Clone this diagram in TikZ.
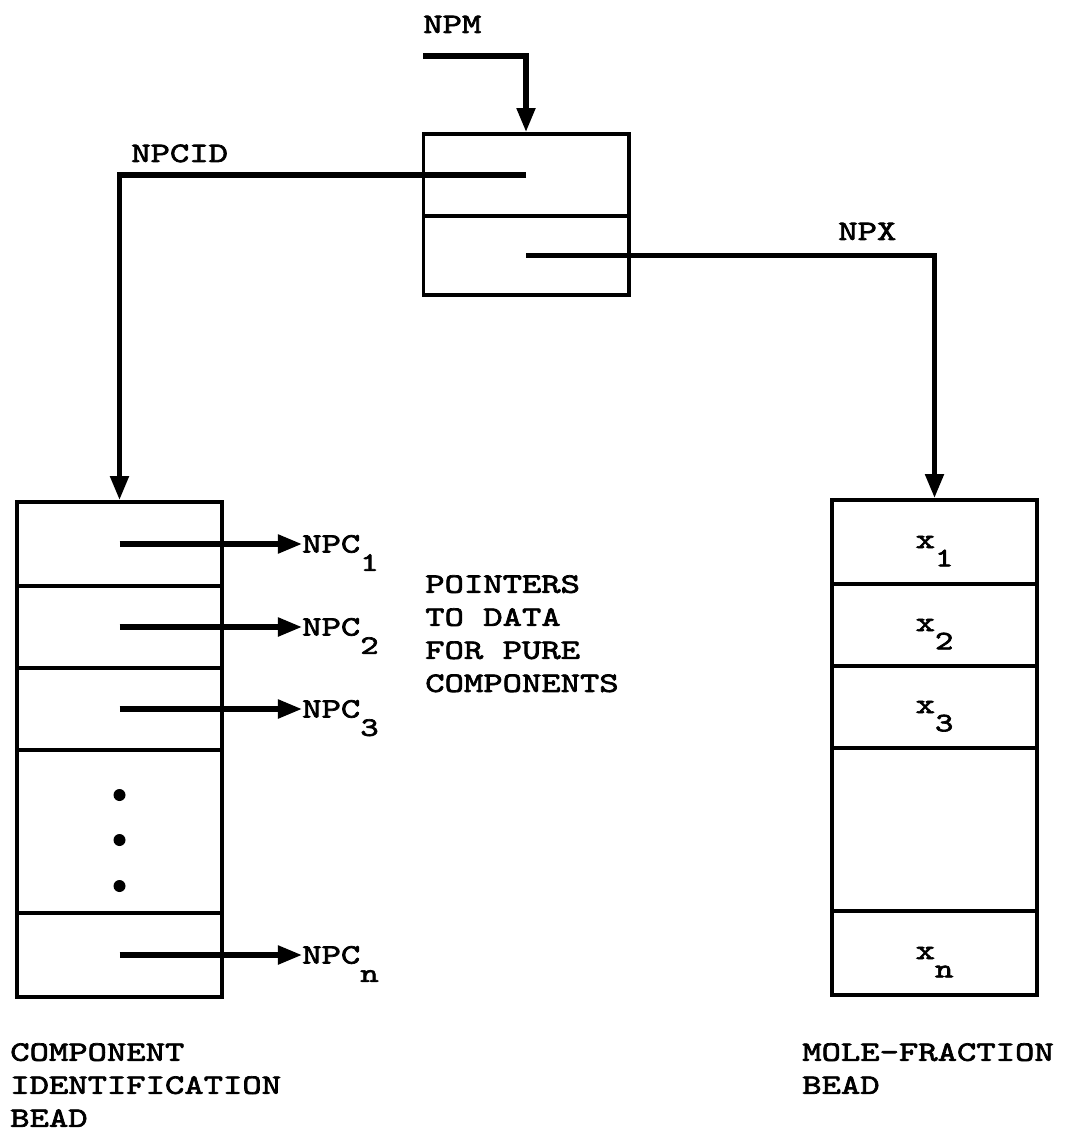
\documentclass[tikz,border=0pt]{standalone}
\usepackage{fontspec}
\setmainfont{lmmono10-regular.otf}[FakeStretch=1.31, FakeBold=2.5]
\usetikzlibrary{arrows.meta,positioning}
\newcommand{\lowsub}[1]{\raisebox{-13pt}[0pt][0pt]{\fontsize{19}{19}\selectfont #1}}

\begin{document}
\begin{tikzpicture}[x=0.025cm, y=-0.025cm,
    cell/.style={draw, line width=2.8pt, minimum width=5.125cm, inner sep=0pt},
    ptr/.style={line width=3.6pt, -{Triangle[length=0.6cm, width=0.45cm]}},
    lbl/.style={inner sep=0pt, font=\fontsize{20}{23.5}\selectfont},
    dotmk/.style={circle, fill, inner sep=0pt, minimum size=0.3cm}]
    \useasboundingbox (0,0) rectangle (1065,1135);

    % Mixture header bead
    \node[cell, minimum height=2.05cm] (head1) at (526,175) {};
    \node[cell, minimum height=1.975cm] (head2) at (526,255.5) {};

    % Component identification bead
    \node[cell, minimum height=2.1cm] (comp1) at (119.5,544) {};
    \node[cell, minimum height=2.05cm] (comp2) at (119.5,627) {};
    \node[cell, minimum height=2.05cm] (comp3) at (119.5,709) {};
    \node[cell, minimum height=4.075cm] (compdots) at (119.5,831.5) {};
    \node[cell, minimum height=2.1cm] (compn) at (119.5,955) {};
    \node[dotmk] (dot1) at (119.5,795) {};
    \node[dotmk] (dot2) at (119.5,840) {};
    \node[dotmk] (dot3) at (119.5,886) {};

    % Mole-fraction bead
    \node[cell, minimum height=2.1cm] (frac1) at (934.5,542) {};
    \node[cell, minimum height=2.05cm] (frac2) at (934.5,625) {};
    \node[cell, minimum height=2.05cm] (frac3) at (934.5,707) {};
    \node[cell, minimum height=4.075cm] (fracdots) at (934.5,829.5) {};
    \node[cell, minimum height=2.1cm] (fracn) at (934.5,953) {};
    \node[lbl] (x1) at (frac1.center) {x\lowsub{1}};
    \node[lbl] (x2) at (frac2.center) {x\lowsub{2}};
    \node[lbl] (x3) at (frac3.center) {x\lowsub{3}};
    \node[lbl] (xn) at (fracn.center) {x\lowsub{n}};

    % Labels
    \node[lbl, anchor=base west] (npm) at (423,33) {NPM};
    \node[lbl, anchor=base west] (npcid) at (131,162) {NPCID};
    \node[lbl, anchor=base west] (npx) at (838,240) {NPX};
    \node[lbl, anchor=west] (npc1) at (302,544) {NPC\lowsub{1}};
    \node[lbl, anchor=west] (npc2) at (302,627) {NPC\lowsub{2}};
    \node[lbl, anchor=west] (npc3) at (302,709) {NPC\lowsub{3}};
    \node[lbl, anchor=west] (npcn) at (302,955) {NPC\lowsub{n}};
    \node[lbl, anchor=north west, align=left] (note) at (425,575) {POINTERS\\TO DATA\\FOR PURE\\COMPONENTS};
    \node[lbl, anchor=north west, align=left] (compname) at (10,1043) {COMPONENT\\IDENTIFICATION\\BEAD};
    \node[lbl, anchor=north west, align=left] (fracname) at (802,1043) {MOLE-FRACTION\\BEAD};

    % Pointers
    \coordinate (npmin) at (423,56);
    \draw[ptr] (npmin) -| (head1.north);
    \draw[ptr] (head1.center) -| (comp1.north);
    \draw[ptr] (head2.center) -| (frac1.north);
    \draw[ptr] (comp1.center) -- (npc1.west);
    \draw[ptr] (comp2.center) -- (npc2.west);
    \draw[ptr] (comp3.center) -- (npc3.west);
    \draw[ptr] (compn.center) -- (npcn.west);
\end{tikzpicture}
\end{document}
